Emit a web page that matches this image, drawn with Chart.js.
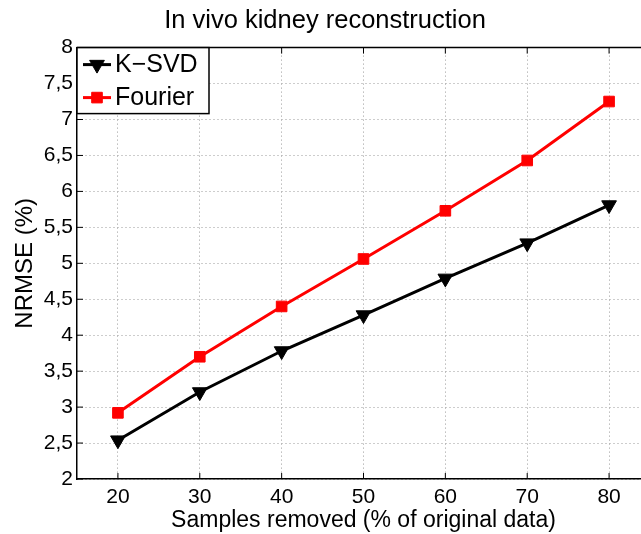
<!DOCTYPE html>
<html lang="en">
<head>
<meta charset="UTF-8">
<title>In vivo kidney reconstruction</title>
<script src="https://cdn.jsdelivr.net/npm/chart.js"></script>
<style>
  html, body { margin: 0; padding: 0; overflow: hidden; background: #fff; }
</style>
</head>
<body>
<canvas id="myChart" width="660" height="534"></canvas>
<script>
// NRMSE (%) against share of samples removed
const samplesRemoved = [20, 30, 40, 50, 60, 70, 80];
const ksvdNrmse = [2.54, 3.21, 3.78, 4.28, 4.79, 5.28, 5.81];
const fourierNrmse = [2.92, 3.70, 4.40, 5.06, 5.73, 6.43, 7.25];
const xTickValues = [20, 30, 40, 50, 60, 70, 80];
const xRange = [15, 85];
const yRange = [2, 8];
const yStep = 0.5;

const FONT = '"Liberation Sans", Arial, Helvetica, sans-serif';
const comma = v => String(v).replace('.', ',');
const toPoints = ys => samplesRemoved.map((s, i) => ({ x: s, y: ys[i] }));

// top/right edges of the axes box and the small inward tick marks
const axesBox = {
  id: 'axesBox',
  beforeDatasetsDraw(chart) {
    const { ctx, chartArea: a, scales: { x, y } } = chart;
    ctx.save();
    ctx.strokeStyle = '#000';
    ctx.lineWidth = 1.5;
    ctx.beginPath();
    ctx.moveTo(a.left, a.top);
    ctx.lineTo(a.right, a.top);
    ctx.lineTo(a.right, a.bottom);
    ctx.stroke();
    ctx.lineWidth = 1;
    ctx.beginPath();
    x.ticks.forEach(t => {
      const px = x.getPixelForValue(t.value);
      ctx.moveTo(px, a.bottom); ctx.lineTo(px, a.bottom - 6);
      ctx.moveTo(px, a.top); ctx.lineTo(px, a.top + 6);
    });
    y.ticks.forEach(t => {
      const py = y.getPixelForValue(t.value);
      ctx.moveTo(a.left, py); ctx.lineTo(a.left + 6, py);
      ctx.moveTo(a.right, py); ctx.lineTo(a.right - 6, py);
    });
    ctx.stroke();
    ctx.restore();
  }
};

// legend drawn inside the upper-left corner with a black frame
const boxedLegend = {
  id: 'boxedLegend',
  afterDraw(chart) {
    const { ctx, chartArea: a } = chart;
    const w = 132, h = 66;
    ctx.save();
    ctx.fillStyle = '#fff';
    ctx.fillRect(a.left, a.top, w, h);
    ctx.strokeStyle = '#000';
    ctx.lineWidth = 1.5;
    ctx.strokeRect(a.left, a.top, w, h);
    ctx.font = '25px ' + FONT;
    ctx.textBaseline = 'middle';
    chart.data.datasets.forEach((ds, i) => {
      const cy = a.top + 17 + i * 33;
      ctx.strokeStyle = ds.borderColor;
      ctx.lineWidth = ds.borderWidth;
      ctx.beginPath();
      ctx.moveTo(a.left + 6, cy);
      ctx.lineTo(a.left + 34, cy);
      ctx.stroke();
      ctx.fillStyle = ds.pointBackgroundColor;
      ctx.strokeStyle = ds.pointBorderColor;
      ctx.lineWidth = 1;
      Chart.helpers.drawPoint(ctx, {
        pointStyle: ds.pointStyle,
        rotation: ds.pointRotation || 0,
        radius: ds.pointRadius,
        borderWidth: 1
      }, a.left + 20, cy);
      ctx.fillStyle = '#000';
      ctx.fillText(ds.label, a.left + 38, cy + 1);
    });
    ctx.restore();
  }
};

new Chart(document.getElementById('myChart'), {
  type: 'line',
  data: {
    datasets: [
      {
        label: 'K\u2212SVD',
        data: toPoints(ksvdNrmse),
        borderColor: '#000',
        backgroundColor: '#000',
        borderWidth: 3,
        pointStyle: 'triangle',
        pointRotation: 180,
        pointRadius: 8.5,
        pointBackgroundColor: '#000',
        pointBorderColor: '#000',
        pointBorderWidth: 1,
        tension: 0
      },
      {
        label: 'Fourier',
        data: toPoints(fourierNrmse),
        borderColor: '#ff0000',
        backgroundColor: '#ff0000',
        borderWidth: 3,
        pointStyle: 'rect',
        pointRadius: 7.5,
        pointBackgroundColor: '#ff0000',
        pointBorderColor: '#ff0000',
        pointBorderWidth: 1,
        tension: 0
      }
    ]
  },
  options: {
    responsive: false,
    animation: false,
    devicePixelRatio: 1,
    layout: { padding: { left: 0, right: 10, top: 0, bottom: 0 } },
    plugins: {
      legend: { display: false },
      tooltip: { enabled: false },
      title: {
        display: true,
        text: 'In vivo kidney reconstruction',
        color: '#000',
        font: { family: FONT, size: 25.5, weight: 'normal', lineHeight: 1.2 },
        padding: { top: 6, bottom: 11 }
      }
    },
    scales: {
      x: {
        type: 'linear',
        min: xRange[0],
        max: xRange[1],
        afterBuildTicks: s => { s.ticks = xTickValues.map(v => ({ value: v })); },
        afterFit: s => { s.height = 55; },
        ticks: { color: '#000', font: { family: FONT, size: 21 }, padding: 6, maxRotation: 0, autoSkip: false },
        grid: { color: '#9a9a9a', lineWidth: 1, drawTicks: false },
        border: { display: true, color: '#000', width: 1.5, dash: [1, 3] },
        title: {
          display: true,
          text: 'Samples removed (% of original data)',
          color: '#000',
          font: { family: FONT, size: 23 },
          padding: { top: 0, bottom: 0 }
        }
      },
      y: {
        min: yRange[0],
        max: yRange[1],
        afterFit: s => { s.width = 77; },
        ticks: { stepSize: yStep, callback: comma, color: '#000', font: { family: FONT, size: 21 }, padding: 4 },
        grid: { color: '#9a9a9a', lineWidth: 1, drawTicks: false },
        border: { display: true, color: '#000', width: 1.5, dash: [1, 3] },
        title: {
          display: true,
          text: 'NRMSE (%)',
          color: '#000',
          font: { family: FONT, size: 24 },
          padding: { top: 10.5, bottom: 0 }
        }
      }
    }
  },
  plugins: [axesBox, boxedLegend]
});
</script>
</body>
</html>
